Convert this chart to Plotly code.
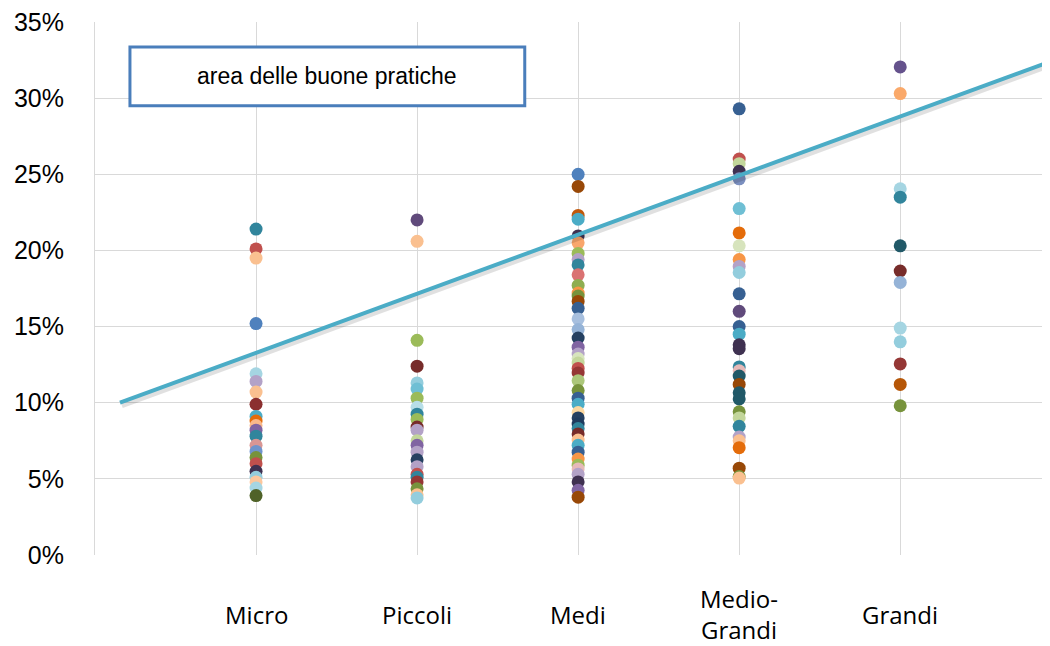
import plotly.graph_objects as go

# categorie (asse x)
categorie = ["Micro", "Piccoli", "Medi", "Medio-<br>Grandi", "Grandi"]

# valori in percentuale, una lista per categoria
micro = [21.4, 20.1, 19.5, 15.2, 11.9, 11.4, 10.7, 9.9, 9.1, 8.8, 8.5, 8.2, 7.8,
         7.2, 6.8, 6.4, 6.0, 5.5, 5.1, 4.8, 4.4, 3.9]
micro_col = ["#31859C", "#C0504D", "#FAC090", "#4F81BD", "#A5D5E2", "#B3A2C7",
             "#FAC090", "#8B2F2F", "#4BACC6", "#E46C0A", "#F9B88A", "#8064A2",
             "#31859C", "#D99694", "#6F94CC", "#77933C", "#C0504D", "#3F3151",
             "#93CDDD", "#FCC79D", "#A5D5E2", "#4F6228"]

piccoli = [22.0, 20.6, 14.1, 12.4, 11.3, 10.9, 10.3, 9.7, 9.25, 8.9, 8.4, 8.2,
           7.5, 7.2, 6.75, 6.25, 5.8, 5.3, 5.1, 4.8, 4.35, 3.95, 3.75]
piccoli_col = ["#604A7B", "#FAC090", "#9BBB59", "#772C2A", "#93CDDD", "#6FBFD4",
               "#9BBB59", "#B7DEE8", "#31859C", "#9BBB59", "#772C2A", "#B3A2C7",
               "#C3D69B", "#8064A2", "#B3A2C7", "#254061", "#B3A2C7", "#C0504D",
               "#31859C", "#953735", "#77933C", "#FAC090", "#93CDDD"]

medi = [25.0, 24.2, 22.3, 22.05, 20.95, 20.5, 19.8, 19.4, 19.05, 18.4, 17.7, 17.2,
        17.0, 16.65, 16.2, 15.5, 14.8, 14.25, 13.65, 13.2, 12.9, 12.6, 12.25, 11.95,
        11.45, 10.8, 10.3, 9.9, 9.35, 9.0, 8.6, 8.3, 7.95, 7.55, 7.2, 6.75, 6.3,
        5.9, 5.65, 5.3, 4.8, 4.25, 3.8]
medi_col = ["#4F81BD", "#984807", "#C0580A", "#4BACC6", "#3F3151", "#F9A66C",
            "#9BBB59", "#B3A2C7", "#31859C", "#DA7272", "#8EAE50", "#F79646",
            "#77933C", "#984807", "#376092", "#A7BFDE", "#95B3D7", "#254061",
            "#8064A2", "#B3A2C7", "#D7E4BD", "#C3D69B", "#C0504D", "#953735",
            "#ACC77A", "#77933C", "#376092", "#4BACC6", "#FAD7A0", "#254061",
            "#1F3B5E", "#31859C", "#772C2A", "#FAC090", "#4BACC6", "#376092",
            "#F79646", "#9BBB59", "#E6B9B8", "#B3A2C7", "#3F3151", "#8064A2",
            "#984807"]

medio_grandi = [29.3, 26.0, 25.7, 25.2, 24.7, 22.75, 21.15, 20.3, 19.4, 18.95,
                18.55, 17.15, 16.0, 15.0, 14.5, 13.8, 13.55, 12.35, 12.1, 11.75,
                11.2, 10.65, 10.25, 9.4, 9.0, 8.45, 7.75, 7.5, 7.05, 5.7, 5.15, 5.05]
medio_grandi_col = ["#376092", "#C0504D", "#C3D69B", "#3F3151", "#7B8FBF",
                    "#6FBFD4", "#E46C0A", "#D7E4BD", "#F79646", "#B3A2C7",
                    "#93CDDD", "#376092", "#604A7B", "#366092", "#4BACC6",
                    "#3F3151", "#3F3151", "#31859C", "#E6B9B8", "#215968",
                    "#984807", "#215968", "#215968", "#77933C", "#C3D69B",
                    "#31859C", "#B3A2C7", "#FAC090", "#E46C0A", "#984807",
                    "#77933C", "#FAC090"]

grandi = [32.05, 30.3, 24.05, 23.5, 20.3, 18.65, 17.9, 14.9, 14.0, 12.55, 11.2, 9.8]
grandi_col = ["#65528C", "#FAA96A", "#A5D5E2", "#31859C", "#215968", "#772C2A",
              "#95B3D7", "#A5D5E2", "#93CDDD", "#953735", "#B65708", "#77933C"]

serie = [micro, piccoli, medi, medio_grandi, grandi]
colori = [micro_col, piccoli_col, medi_col, medio_grandi_col, grandi_col]

# linea di tendenza (estremi)
linea_x = [-0.845, 4.93]
linea_y = [10.0, 32.4]

y_ticks = [0, 5, 10, 15, 20, 25, 30, 35]
y_labels = ["0%", "5%", "10%", "15%", "20%", "25%", "30%", "35%"]

fig = go.Figure()

for i, (vals, cols) in enumerate(zip(serie, colori)):
    fig.add_trace(go.Scatter(
        x=[i] * len(vals), y=vals, mode="markers",
        marker=dict(size=13, color=cols, line=dict(width=0)),
        showlegend=False, hoverinfo="y"))

# ombra della linea
fig.add_trace(go.Scatter(x=[v + 0.012 for v in linea_x], y=[v - 0.2 for v in linea_y],
                         mode="lines", line=dict(color="rgba(0,0,0,0.12)", width=5),
                         showlegend=False, hoverinfo="skip"))
fig.add_trace(go.Scatter(x=linea_x, y=linea_y, mode="lines",
                         line=dict(color="#4BACC6", width=4),
                         showlegend=False, hoverinfo="skip"))

# etichette categorie sotto l'asse
for i, c in enumerate(categorie):
    fig.add_annotation(x=i, y=-0.111, xref="x", yref="paper", text=c,
                       showarrow=False, xanchor="center", yanchor="middle",
                       font=dict(family="Open Sans", size=24, color="#000000"))

# riquadro testo
fig.add_shape(type="rect", xref="paper", yref="paper",
              x0=0.0366, x1=0.450, y0=0.843, y1=0.953,
              line=dict(color="#4A7EBB", width=3), fillcolor="white", layer="above")
fig.add_annotation(x=0.243, y=0.898, xref="paper", yref="paper",
                   text="area delle buone pratiche", showarrow=False,
                   xanchor="center", yanchor="middle",
                   font=dict(family="Liberation Sans", size=23, color="#000000"))

# la pagina ha 8 px di margine: figura ridotta di conseguenza
fig.update_layout(
    width=1042, height=638,
    margin=dict(l=87, r=0, t=11, b=91),
    paper_bgcolor="white", plot_bgcolor="white",
    xaxis=dict(range=[-1, 4.93], tickvals=[0, 1, 2, 3, 4], showticklabels=False,
               showgrid=True, gridcolor="#D9D9D9", gridwidth=1, zeroline=False,
               ticks=""),
    yaxis=dict(range=[0, 35], tickvals=y_ticks, ticktext=y_labels,
               showgrid=True, gridcolor="#D9D9D9", gridwidth=1, zeroline=False,
               showline=True, linecolor="#D9D9D9", linewidth=1, mirror=False,
               ticks="", ticklabelstandoff=25, ticklabeloverflow="allow",
               tickfont=dict(family="Liberation Sans", size=25, color="#000000")),
)

fig.write_html("out.html")
